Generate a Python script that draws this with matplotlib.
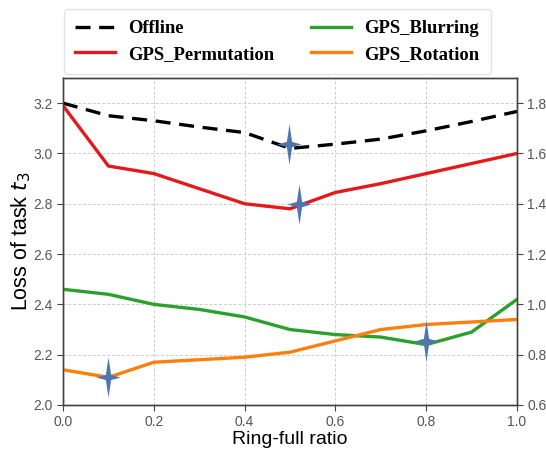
import matplotlib
matplotlib.use("Agg")
import matplotlib.pyplot as plt
from matplotlib.path import Path
import numpy as np

ratio = [0.0, 0.1, 0.2, 0.3, 0.4, 0.5, 0.6, 0.7, 0.8, 0.9, 1.0]
offline = [3.20, 3.15, 3.13, 3.105, 3.083, 3.02, 3.037, 3.057, 3.09, 3.127, 3.167]
permutation = [3.19, 2.95, 2.92, 2.86, 2.80, 2.78, 2.845, 2.88, 2.92, 2.96, 3.00]
blurring = [2.46, 2.44, 2.40, 2.38, 2.35, 2.30, 2.28, 2.27, 2.24, 2.29, 2.42]
rotation = [2.14, 2.11, 2.17, 2.18, 2.19, 2.21, 2.255, 2.30, 2.32, 2.33, 2.34]
star_x = [0.10, 0.497, 0.52, 0.80]
star_y = [2.113, 3.037, 2.80, 2.256]
left_ticks = [2.0, 2.2, 2.4, 2.6, 2.8, 3.0, 3.2]
right_ticks = [0.6, 0.8, 1.0, 1.2, 1.4, 1.6, 1.8]
x_ticks = [0.0, 0.2, 0.4, 0.6, 0.8, 1.0]

fig = plt.figure(figsize=(5.46, 4.5), dpi=100)
ax = fig.add_axes([0.1154, 0.10, 0.8315, 0.7267])

lw = 2.4
ax.plot(ratio, offline, color="black", lw=lw, dashes=(4.5, 2.6), label="Offline", zorder=3)
ax.plot(ratio, permutation, color="#e31a1c", lw=lw, label="GPS_Permutation", zorder=3)
ax.plot(ratio, blurring, color="#2ca02c", lw=lw, label="GPS_Blurring", zorder=3)
ax.plot(ratio, rotation, color="#ff7f0e", lw=lw, label="GPS_Rotation", zorder=3)

star = Path([(0, 1), (0.13, 0.13), (0.6, 0), (0.13, -0.13), (0, -1), (-0.13, -0.13),
             (-0.6, 0), (-0.13, 0.13), (0, 1)],
            [Path.MOVETO] + [Path.LINETO] * 7 + [Path.CLOSEPOLY])
ax.plot(star_x, star_y, linestyle="none", marker=star, markersize=29,
        color="#4f76b0", markeredgewidth=0, zorder=4)

ax.set_xlim(0, 1.0)
ax.set_ylim(2.0, 3.3)
ax.set_xticks(x_ticks)
ax.set_yticks(left_ticks)
ax.grid(True, color="#cccccc", linestyle=(0, (3, 2)), linewidth=0.7)
ax.set_axisbelow(True)

ax2 = ax.twinx()
ax2.set_ylim(0.6, 1.9)
ax2.set_yticks(right_ticks)

for a in (ax, ax2):
    for s in a.spines.values():
        s.set_color("#444444")
        s.set_linewidth(1.0)
    a.tick_params(colors="#444444", labelcolor="#555555", labelsize=10, length=4, width=0.8)

ax.set_ylabel("Loss of task $t_3$", fontsize=15.5, family="Liberation Sans", labelpad=0)
ax.set_xlabel("Ring-full ratio", fontsize=14, family="Liberation Sans", labelpad=1)
for lab in ax.get_xticklabels() + ax.get_yticklabels() + ax2.get_yticklabels():
    lab.set_family("Liberation Sans")

leg = ax.legend(loc="lower center", bbox_to_anchor=(0.472, 1.012), ncol=2,
                prop={"family": "Liberation Serif", "weight": "bold", "size": 13.4},
                handlelength=2.15, handletextpad=0.7, columnspacing=2.0,
                frameon=True, fancybox=True, borderaxespad=0,
                edgecolor="#dddddd", borderpad=0.6, labelspacing=0.45)

fig.savefig("out.png", dpi=100)
